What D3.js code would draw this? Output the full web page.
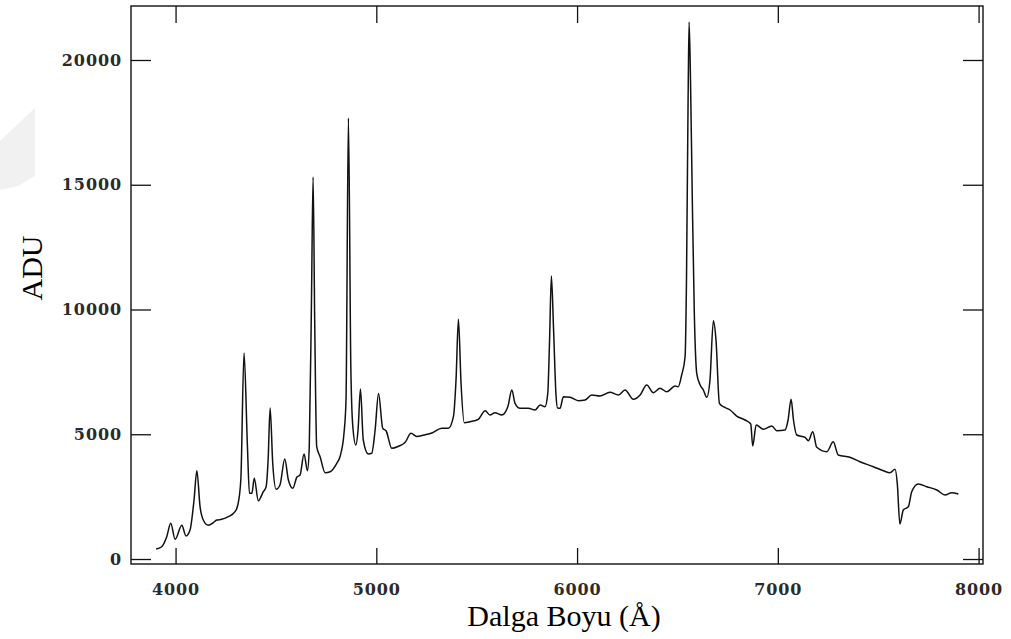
<!DOCTYPE html>
<html>
<head>
<meta charset="utf-8">
<script src="https://cdn.jsdelivr.net/npm/d3@7"></script>
<style>
  body { margin: 0; background: #fff; }
  .tickText { font-family: "DejaVu Serif", serif; font-size: 16px; font-weight: bold; letter-spacing: 0.9px; fill: #2a2a2a; }
  .aText { font-family: "Liberation Serif", "Times New Roman", serif; font-size: 30px; fill: #000; }
</style>
</head>
<body>
<div id="chart"></div>
<script>
// spectrum: wavelength (Angstrom) and counts (ADU)
var wavelength = [
  3903, 3931, 3956, 3976, 3998, 4031, 4052, 4072, 4092, 4106,
  4122, 4138, 4163, 4188, 4205, 4230, 4263, 4296, 4310, 4325,
  4341, 4358, 4368, 4380, 4392, 4412, 4437, 4451, 4461, 4471,
  4484, 4501, 4520, 4544, 4562, 4584, 4604, 4620, 4640, 4657,
  4666, 4677, 4685, 4693, 4703, 4720, 4745, 4770, 4803, 4819,
  4839, 4849, 4861, 4873, 4883, 4898, 4909, 4921, 4935, 4960,
  4977, 4994, 5011, 5032, 5049, 5077, 5110, 5143, 5173, 5201,
  5238, 5280, 5326, 5359, 5384, 5397, 5409, 5422, 5438, 5467,
  5508, 5542, 5566, 5591, 5625, 5655, 5675, 5691, 5716, 5757,
  5791, 5816, 5840, 5854, 5863, 5872, 5883, 5895, 5903, 5915,
  5932, 5965, 6006, 6040, 6073, 6114, 6164, 6206, 6239, 6280,
  6314, 6347, 6380, 6413, 6447, 6488, 6504, 6521, 6538, 6545,
  6553, 6558, 6565, 6574, 6584, 6596, 6613, 6629, 6646, 6662,
  6679, 6692, 6709, 6729, 6762, 6795, 6837, 6865, 6875, 6892,
  6928, 6970, 6995, 7036, 7051, 7066, 7078, 7094, 7136, 7152,
  7174, 7194, 7244, 7276, 7301, 7359, 7409, 7476, 7526, 7559,
  7584, 7595, 7608, 7625, 7650, 7667, 7700, 7742, 7792, 7833,
  7866, 7899
]
var flux = [
  401, 493, 894, 1431, 790, 1351, 922, 1162, 2365, 3539,
  2096, 1563, 1351, 1455, 1563, 1591, 1695, 1896, 2164, 3166,
  8256, 4501, 2633, 2633, 3234, 2337, 2697, 2898, 3968, 6052,
  3836, 2794, 2966, 4008, 3166, 2834, 3275, 3367, 4208, 3539,
  4501, 10381, 15311, 9579, 4501, 4100, 3459, 3499, 3836, 4100,
  5038, 6373, 17675, 7707, 5303, 4569, 5170, 6814, 4770, 4208,
  4236, 5170, 6633, 5238, 5130, 4437, 4517, 4669, 5038, 4910,
  4970, 5062, 5238, 5238, 5703, 7174, 9607, 7042, 5463, 5503,
  5599, 5944, 5772, 5864, 5772, 6104, 6774, 6240, 6040, 6040,
  5972, 6172, 6104, 6641, 8778, 11343, 9178, 6573, 6052, 6040,
  6505, 6481, 6345, 6373, 6573, 6533, 6681, 6573, 6774, 6401,
  6573, 6974, 6665, 6842, 6705, 6934, 6906, 7375, 8108, 11182,
  18397, 21523, 19198, 14389, 9848, 7443, 6974, 6774, 6481, 7174,
  9551, 8778, 6240, 6104, 5972, 5731, 5571, 5411, 4529, 5371,
  5198, 5331, 5142, 5170, 5571, 6401, 5571, 4970, 4878, 4741,
  5102, 4477, 4301, 4701, 4168, 4076, 3900, 3699, 3539, 3459,
  3595, 3034, 1403, 1964, 2096, 2697, 3006, 2898, 2766, 2565,
  2657, 2605
]
var xTicks = [4000, 5000, 6000, 7000, 8000]
var yTicks = [0, 5000, 10000, 15000, 20000]

var svgWidth = 1011
var svgHeight = 639

var margin = {
  top: 6,
  right: 28,
  bottom: 75,
  left: 131
}

var width = svgWidth - margin.left - margin.right
var height = svgHeight - margin.top - margin.bottom

var data = wavelength.map(function(w, i) {
  return { wl: w, adu: flux[i] }
})

var svg = d3.select("#chart")
  .append("svg")
  .attr("width", svgWidth)
  .attr("height", svgHeight)

// faint watermark shape on the left edge
svg.append("path")
  .attr("d", "M35,108 L35,176 L18,186 L0,190 L0,141 Z")
  .attr("fill", "#f1f1f1")

var chartGroup = svg.append("g")
  .attr("transform", `translate(${margin.left}, ${margin.top})`)

var xScale = d3.scaleLinear()
  .domain([3778, 8022])
  .range([0, width])

var yScale = d3.scaleLinear()
  .domain([-200, 22164])
  .range([height, 0])

// ticks all point inward, on all four sides
var bottomAxis = d3.axisBottom(xScale).tickValues(xTicks).tickSizeInner(-16).tickSizeOuter(0).tickFormat(d3.format("d"))
var topAxis = d3.axisTop(xScale).tickValues(xTicks).tickSizeInner(-17).tickSizeOuter(0).tickFormat("")
var leftAxis = d3.axisLeft(yScale).tickValues(yTicks).tickSizeInner(-20).tickSizeOuter(0).tickPadding(9).tickFormat(d3.format("d"))
var rightAxis = d3.axisRight(yScale).tickValues(yTicks).tickSizeInner(-20).tickSizeOuter(0).tickFormat("")

var axes = [
  chartGroup.append("g").attr("transform", `translate(0, ${height})`).call(bottomAxis),
  chartGroup.append("g").call(topAxis),
  chartGroup.append("g").call(leftAxis),
  chartGroup.append("g").attr("transform", `translate(${width}, 0)`).call(rightAxis)
]
axes.forEach(function(g) {
  g.select(".domain").remove()
  g.selectAll(".tick line").attr("stroke", "#111").attr("stroke-width", 1.3)
  g.selectAll(".tick text").attr("class", "tickText").attr("font-family", null).attr("font-size", null)
})
axes[0].selectAll(".tick text").attr("dy", null).attr("y", 31)

// frame
chartGroup.append("rect")
  .attr("x", 0)
  .attr("y", 0)
  .attr("width", width)
  .attr("height", height)
  .attr("fill", "none")
  .attr("stroke", "#111")
  .attr("stroke-width", 1.4)

// spectrum
var line = d3.line()
  .x(d => xScale(d.wl))
  .y(d => yScale(d.adu))
  .curve(d3.curveMonotoneX)

chartGroup.append("path")
  .datum(data)
  .attr("d", line)
  .attr("fill", "none")
  .attr("stroke", "#111")
  .attr("stroke-width", 1.5)
  .attr("stroke-linejoin", "round")

// axis labels
svg.append("text")
  .attr("class", "aText")
  .attr("transform", "translate(42, 268) rotate(-90)")
  .attr("text-anchor", "middle")
  .text("ADU")

svg.append("text")
  .attr("class", "aText")
  .attr("x", 564)
  .attr("y", 626)
  .attr("text-anchor", "middle")
  .text("Dalga Boyu (Å)")
</script>
</body>
</html>
